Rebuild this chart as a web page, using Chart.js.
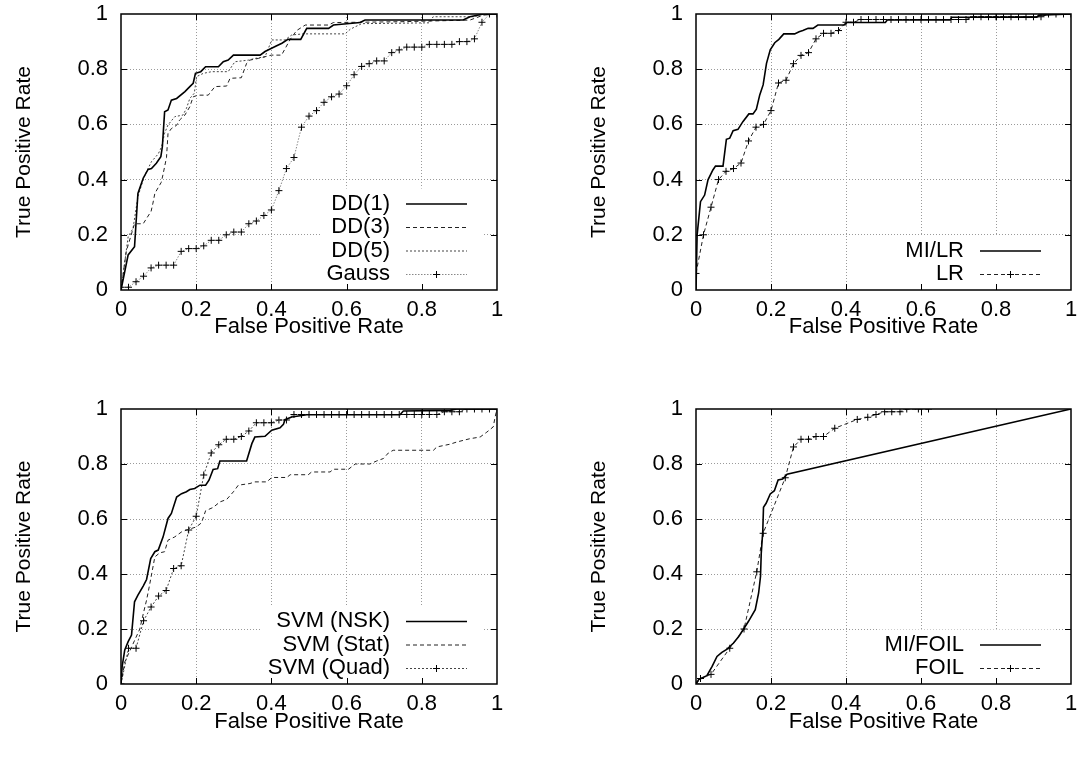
<!DOCTYPE html>
<html>
<head>
<meta charset="utf-8">
<script src="https://cdn.jsdelivr.net/npm/chart.js@4.4.0/dist/chart.umd.min.js"></script>
<style>
html, body { margin: 0; padding: 0; background: #fff; overflow: hidden; width: 1079px; height: 759px; }
canvas { position: absolute; }
</style>
</head>
<body>
<canvas id="c1" width="540" height="380" style="left:0;top:0"></canvas>
<canvas id="c2" width="504" height="380" style="left:575px;top:0"></canvas>
<canvas id="c3" width="540" height="380" style="left:0;top:395px"></canvas>
<canvas id="c4" width="504" height="380" style="left:575px;top:395px"></canvas>
<script>
// axis tick labels (same on every panel)
const tickLabels = ['0', '0.2', '0.4', '0.6', '0.8', '1'];
const xTitle = 'False Positive Rate';
const yTitle = 'True Positive Rate';

// panel 1 : DD(1), DD(3), DD(5), Gauss   -- [fpr, tpr]
const dd1 = [[0,0],[0.019,0.127],[0.036,0.157],[0.045,0.35],[0.059,0.405],[0.072,0.437],[0.081,0.44],[0.094,0.459],[0.106,0.483],[0.11,0.519],[0.116,0.646],[0.125,0.652],[0.134,0.688],[0.148,0.694],[0.17,0.719],[0.183,0.737],[0.192,0.749],[0.198,0.785],[0.212,0.791],[0.225,0.809],[0.259,0.809],[0.272,0.827],[0.285,0.833],[0.299,0.851],[0.37,0.851],[0.383,0.864],[0.41,0.882],[0.428,0.894],[0.444,0.908],[0.478,0.908],[0.494,0.948],[0.552,0.948],[0.565,0.96],[0.636,0.969],[0.649,0.978],[0.91,0.978],[0.928,0.99],[0.964,1],[1,1]];
const dd3 = [[0,0],[0.014,0.14],[0.036,0.24],[0.059,0.24],[0.08,0.285],[0.085,0.315],[0.09,0.35],[0.107,0.39],[0.112,0.42],[0.121,0.48],[0.125,0.567],[0.134,0.585],[0.148,0.597],[0.156,0.616],[0.17,0.634],[0.183,0.664],[0.192,0.7],[0.205,0.706],[0.232,0.706],[0.25,0.737],[0.281,0.739],[0.29,0.767],[0.32,0.769],[0.334,0.821],[0.343,0.833],[0.365,0.839],[0.4,0.851],[0.427,0.851],[0.45,0.908],[0.467,0.94],[0.49,0.96],[0.552,0.96],[0.565,0.969],[0.742,0.972],[0.928,0.978],[0.964,0.996],[1,1]];
const dd5 = [[0,0],[0.019,0.193],[0.032,0.223],[0.045,0.338],[0.059,0.399],[0.068,0.429],[0.081,0.465],[0.099,0.493],[0.108,0.519],[0.116,0.568],[0.125,0.598],[0.143,0.628],[0.165,0.634],[0.174,0.658],[0.183,0.694],[0.195,0.713],[0.201,0.773],[0.219,0.785],[0.241,0.791],[0.285,0.791],[0.303,0.827],[0.339,0.833],[0.356,0.839],[0.383,0.845],[0.401,0.906],[0.436,0.906],[0.454,0.924],[0.485,0.928],[0.596,0.928],[0.61,0.945],[0.64,0.965],[0.82,0.968],[0.83,0.99],[0.94,0.99],[0.96,1],[1,1]];
const gauss = [[0,0.01],[0.02,0.01],[0.04,0.03],[0.06,0.05],[0.08,0.08],[0.1,0.09],[0.12,0.09],[0.14,0.09],[0.16,0.14],[0.18,0.15],[0.2,0.15],[0.22,0.16],[0.24,0.18],[0.26,0.18],[0.28,0.2],[0.3,0.21],[0.32,0.21],[0.34,0.24],[0.36,0.25],[0.38,0.27],[0.4,0.29],[0.42,0.36],[0.44,0.44],[0.46,0.48],[0.48,0.59],[0.5,0.63],[0.52,0.65],[0.54,0.68],[0.56,0.7],[0.58,0.71],[0.6,0.74],[0.62,0.78],[0.64,0.81],[0.66,0.82],[0.68,0.83],[0.7,0.83],[0.72,0.86],[0.74,0.87],[0.76,0.88],[0.78,0.88],[0.8,0.88],[0.82,0.89],[0.84,0.89],[0.86,0.89],[0.88,0.89],[0.9,0.9],[0.92,0.9],[0.94,0.91],[0.96,0.97],[0.98,1],[1,1]];

// panel 2 : MI/LR, LR
const miLr = [[0,0],[0.003,0.2],[0.012,0.32],[0.023,0.344],[0.032,0.399],[0.045,0.435],[0.052,0.449],[0.072,0.449],[0.081,0.546],[0.09,0.55],[0.099,0.577],[0.112,0.582],[0.125,0.61],[0.141,0.638],[0.152,0.638],[0.161,0.655],[0.17,0.707],[0.179,0.743],[0.188,0.821],[0.198,0.87],[0.21,0.896],[0.221,0.908],[0.234,0.928],[0.263,0.928],[0.275,0.936],[0.285,0.94],[0.299,0.948],[0.312,0.948],[0.325,0.96],[0.395,0.96],[0.402,0.969],[0.505,0.969],[0.51,0.978],[0.678,0.978],[0.682,0.988],[0.909,0.988],[0.914,0.996],[1,1]];
const lr = [[0,0.06],[0.02,0.2],[0.04,0.3],[0.06,0.4],[0.08,0.43],[0.1,0.44],[0.12,0.46],[0.14,0.54],[0.16,0.59],[0.18,0.6],[0.2,0.65],[0.22,0.75],[0.24,0.76],[0.26,0.82],[0.28,0.85],[0.3,0.86],[0.32,0.91],[0.34,0.93],[0.36,0.93],[0.38,0.94],[0.4,0.97],[0.42,0.97],[0.44,0.98],[0.46,0.98],[0.48,0.98],[0.5,0.98],[0.52,0.98],[0.54,0.98],[0.56,0.98],[0.58,0.98],[0.6,0.98],[0.62,0.98],[0.64,0.98],[0.66,0.98],[0.68,0.98],[0.7,0.98],[0.72,0.98],[0.74,0.99],[0.76,0.99],[0.78,0.99],[0.8,0.99],[0.82,0.99],[0.84,0.99],[0.86,0.99],[0.88,0.99],[0.9,0.99],[0.92,0.99],[0.94,1],[0.96,1],[0.98,1],[1,1]];

// panel 3 : SVM (NSK), SVM (Stat), SVM (Quad)
const svmNsk = [[0,0],[0.003,0.063],[0.01,0.124],[0.019,0.154],[0.028,0.178],[0.036,0.299],[0.045,0.323],[0.059,0.356],[0.068,0.38],[0.079,0.456],[0.09,0.481],[0.099,0.487],[0.112,0.535],[0.125,0.602],[0.134,0.62],[0.148,0.68],[0.161,0.692],[0.174,0.699],[0.183,0.707],[0.196,0.711],[0.21,0.723],[0.225,0.723],[0.234,0.741],[0.245,0.78],[0.257,0.783],[0.263,0.811],[0.334,0.811],[0.348,0.874],[0.356,0.898],[0.383,0.901],[0.401,0.923],[0.423,0.932],[0.432,0.944],[0.436,0.961],[0.454,0.971],[0.494,0.979],[0.742,0.979],[0.751,0.993],[0.875,0.995],[0.893,1],[1,1]];
const svmStat = [[0,0],[0.01,0.08],[0.03,0.14],[0.05,0.2],[0.06,0.26],[0.068,0.305],[0.076,0.36],[0.09,0.462],[0.103,0.477],[0.116,0.481],[0.125,0.523],[0.143,0.535],[0.161,0.553],[0.179,0.562],[0.2,0.571],[0.214,0.586],[0.225,0.63],[0.245,0.642],[0.263,0.662],[0.281,0.671],[0.299,0.699],[0.312,0.723],[0.343,0.729],[0.356,0.735],[0.388,0.735],[0.401,0.751],[0.441,0.751],[0.45,0.761],[0.498,0.761],[0.507,0.771],[0.556,0.771],[0.565,0.781],[0.605,0.781],[0.623,0.8],[0.662,0.8],[0.68,0.811],[0.698,0.82],[0.711,0.84],[0.724,0.85],[0.831,0.85],[0.84,0.862],[0.875,0.872],[0.893,0.88],[0.928,0.892],[0.955,0.898],[0.973,0.916],[0.99,0.935],[0.995,0.971],[1,1]];
const svmQuad = [[0,0],[0.02,0.13],[0.04,0.13],[0.06,0.23],[0.08,0.28],[0.1,0.32],[0.12,0.34],[0.14,0.42],[0.16,0.43],[0.18,0.56],[0.2,0.61],[0.22,0.76],[0.24,0.84],[0.26,0.87],[0.28,0.89],[0.3,0.89],[0.32,0.9],[0.34,0.92],[0.36,0.95],[0.38,0.95],[0.4,0.95],[0.42,0.96],[0.44,0.96],[0.46,0.98],[0.48,0.98],[0.5,0.98],[0.52,0.98],[0.54,0.98],[0.56,0.98],[0.58,0.98],[0.6,0.98],[0.62,0.98],[0.64,0.98],[0.66,0.98],[0.68,0.98],[0.7,0.98],[0.72,0.98],[0.74,0.98],[0.76,0.98],[0.78,0.98],[0.8,0.98],[0.82,0.98],[0.84,0.98],[0.86,0.99],[0.88,0.99],[0.9,0.99],[0.92,1],[0.94,1],[0.96,1],[0.98,1],[1,1]];

// panel 4 : MI/FOIL, FOIL
const miFoil = [[0,0],[0.007,0.016],[0.016,0.022],[0.029,0.03],[0.043,0.064],[0.056,0.1],[0.069,0.115],[0.083,0.127],[0.1,0.149],[0.114,0.173],[0.127,0.2],[0.14,0.228],[0.158,0.27],[0.167,0.331],[0.172,0.391],[0.174,0.476],[0.178,0.554],[0.18,0.643],[0.187,0.657],[0.198,0.691],[0.209,0.703],[0.219,0.742],[0.231,0.745],[0.243,0.763],[1,1]];
const foil = [[0,0],[0.012,0.02],[0.04,0.035],[0.09,0.13],[0.128,0.2],[0.162,0.408],[0.179,0.548],[0.238,0.75],[0.26,0.862],[0.28,0.89],[0.3,0.89],[0.32,0.9],[0.34,0.9],[0.37,0.93],[0.43,0.962],[0.458,0.97],[0.48,0.98],[0.503,0.99],[0.522,0.99],[0.544,0.99],[0.562,1],[0.593,1],[0.62,1]];

const FONT = 'Liberation Sans, Arial, Helvetica, sans-serif';
Chart.defaults.animation = false;
Chart.defaults.font.family = FONT;
Chart.defaults.color = '#000';

// line styles, gnuplot-ish
const SOLID = { borderColor: '#000', borderWidth: 1.6, borderDash: [] };
const DASH = { borderColor: '#222', borderWidth: 1, borderDash: [4, 3] };
const DOT = { borderColor: '#444', borderWidth: 1, borderDash: [2, 2] };
const FINEDOT = { borderColor: '#888', borderWidth: 1, borderDash: [1.5, 1.5] };

function series(label, pts, style, marks) {
  return Object.assign({
    label: label,
    data: pts.map(p => ({ x: p[0], y: p[1] })),
    pointRadius: marks ? 3.5 : 0,
    pointStyle: 'cross',
    pointBorderColor: '#000',
    pointBorderWidth: 1,
    tension: 0,
    fill: false
  }, style);
}

// opaque key in the lower right corner, drawn over the grid but under the curves
const keyPlugin = {
  id: 'key',
  beforeDatasetsDraw(chart) {
    const { ctx, chartArea: a } = chart;
    const ds = chart.data.datasets;
    const rowH = 23.5;
    const y0 = a.bottom - 16 - (ds.length - 1) * rowH;
    const textR = a.right - 107;
    ctx.save();
    ctx.font = '22px ' + FONT;
    let w = 0;
    ds.forEach(d => { w = Math.max(w, ctx.measureText(d.label).width); });
    const bx = textR - w - 6;
    ctx.fillStyle = '#fff';
    ctx.fillRect(bx, y0 - 15, a.right - 15 - bx, a.bottom - (y0 - 15));
    ds.forEach((d, i) => {
      const y = y0 + i * rowH;
      ctx.fillStyle = '#000';
      ctx.textAlign = 'right';
      ctx.textBaseline = 'middle';
      ctx.fillText(d.label, textR, y);
      ctx.strokeStyle = d.borderColor;
      ctx.lineWidth = d.borderWidth;
      ctx.setLineDash(d.borderDash);
      ctx.beginPath();
      ctx.moveTo(a.right - 91, y + 0.5);
      ctx.lineTo(a.right - 30, y + 0.5);
      ctx.stroke();
      if (d.pointRadius > 0) {
        const cx = a.right - 60.5, r = d.pointRadius;
        ctx.setLineDash([]);
        ctx.strokeStyle = '#000';
        ctx.lineWidth = 1;
        ctx.beginPath();
        ctx.moveTo(cx - r, y + 0.5); ctx.lineTo(cx + r, y + 0.5);
        ctx.moveTo(cx, y + 0.5 - r); ctx.lineTo(cx, y + 0.5 + r);
        ctx.stroke();
      }
    });
    ctx.restore();
  }
};

// frame with inward tics on all four sides
const framePlugin = {
  id: 'frame',
  afterDraw(chart) {
    const { ctx, chartArea: a, scales } = chart;
    ctx.save();
    ctx.strokeStyle = '#000';
    ctx.lineWidth = 1;
    ctx.beginPath();
    [0.2, 0.4, 0.6, 0.8].forEach(v => {
      const x = Math.round(scales.x.getPixelForValue(v)) + 0.5;
      const y = Math.round(scales.y.getPixelForValue(v)) + 0.5;
      ctx.moveTo(x, a.bottom); ctx.lineTo(x, a.bottom - 6);
      ctx.moveTo(x, a.top); ctx.lineTo(x, a.top + 6);
      ctx.moveTo(a.left, y); ctx.lineTo(a.left + 6, y);
      ctx.moveTo(a.right, y); ctx.lineTo(a.right - 6, y);
    });
    ctx.stroke();
    ctx.lineWidth = 1.5;
    ctx.strokeRect(a.left, a.top, a.right - a.left, a.bottom - a.top);
    ctx.restore();
  }
};

function gridColor(c) {
  const v = c.tick ? c.tick.value : 0;
  return (v <= 0.001 || v >= 0.999) ? 'rgba(0,0,0,0)' : '#9a9a9a';
}

// label gap made with an invisible tick mark, so it does not widen the label overhang
function makePanel(id, datasets, axisH, padRight) {
  new Chart(document.getElementById(id), {
    type: 'line',
    data: { datasets: datasets },
    options: {
      responsive: false,
      layout: { padding: { left: 0, right: padRight, top: 14, bottom: 0 } },
      plugins: { legend: { display: false }, tooltip: { enabled: false } },
      scales: {
        x: {
          type: 'linear', min: 0, max: 1,
          ticks: { stepSize: 0.2, padding: 0, maxRotation: 0, autoSkip: false,
                   font: { size: 22 }, callback: v => tickLabels[Math.round(v * 5)] },
          grid: { color: gridColor, lineWidth: 1, drawTicks: true, tickLength: 7,
                  tickColor: 'rgba(0,0,0,0)', borderDash: [1, 2] },
          border: { display: false, dash: [1, 2] },
          title: { display: true, text: xTitle, font: { size: 22 }, padding: { top: 0, bottom: 40 } },
          afterFit: s => { s.height = axisH; }
        },
        y: {
          type: 'linear', min: 0, max: 1,
          ticks: { stepSize: 0.2, padding: 0, font: { size: 22 },
                   callback: v => tickLabels[Math.round(v * 5)] },
          grid: { color: gridColor, lineWidth: 1, drawTicks: true, tickLength: 13,
                  tickColor: 'rgba(0,0,0,0)', borderDash: [1, 2] },
          border: { display: false, dash: [1, 2] },
          title: { display: true, text: yTitle, font: { size: 21 }, padding: { top: 12, bottom: 0 } },
          afterFit: s => { s.width = 121; }
        }
      }
    },
    plugins: [keyPlugin, framePlugin]
  });
}

makePanel('c1', [
  series('DD(1)', dd1, SOLID, false),
  series('DD(3)', dd3, DASH, false),
  series('DD(5)', dd5, DOT, false),
  series('Gauss', gauss, FINEDOT, true)
], 90, 43);

makePanel('c2', [
  series('MI/LR', miLr, SOLID, false),
  series('LR', lr, DASH, true)
], 90, 8);

makePanel('c3', [
  series('SVM (NSK)', svmNsk, SOLID, false),
  series('SVM (Stat)', svmStat, DASH, false),
  series('SVM (Quad)', svmQuad, DOT, true)
], 91, 43);

makePanel('c4', [
  series('MI/FOIL', miFoil, SOLID, false),
  series('FOIL', foil, DASH, true)
], 91, 8);
</script>
</body>
</html>
